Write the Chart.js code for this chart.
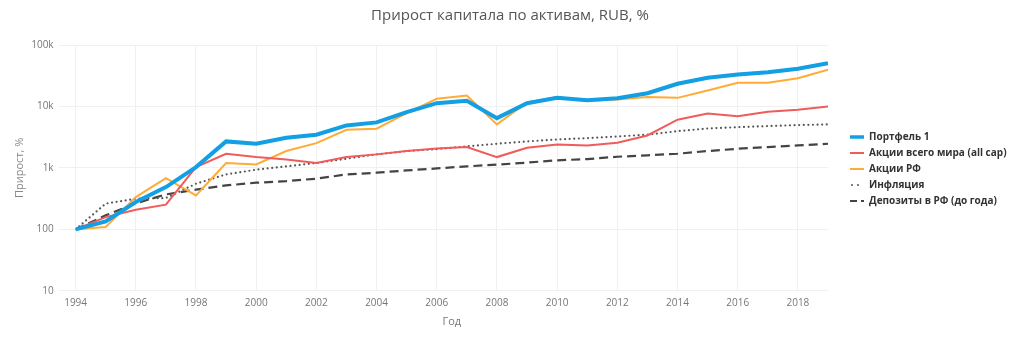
<!DOCTYPE html>
<html>
<head>
<meta charset="utf-8">
<script src="https://cdn.jsdelivr.net/npm/chart.js@4/dist/chart.umd.min.js"></script>
<style>
  html, body { margin: 0; background: #fff; }
  #wrap { width: 1024px; height: 341px; }
</style>
</head>
<body>
<div id="wrap"><canvas id="growthChart"></canvas></div>
<script>
const years = [1994, 1995, 1996, 1997, 1998, 1999, 2000, 2001, 2002, 2003, 2004, 2005, 2006,
  2007, 2008, 2009, 2010, 2011, 2012, 2013, 2014, 2015, 2016, 2017, 2018, 2019];

// cumulative growth, % (start = 100)
const portfolio = [100, 135, 278, 488, 1030, 2700, 2470, 3100, 3470, 4910, 5500, 8070, 11300,
  12400, 6460, 11300, 13800, 12600, 13600, 16400, 23400, 29300, 33200, 36100, 41000, 50600];
const worldStocks = [100, 158, 209, 252, 1030, 1700, 1500, 1370, 1200, 1500, 1660, 1880, 2070,
  2180, 1500, 2130, 2410, 2320, 2570, 3370, 6080, 7700, 6950, 8200, 8840, 10000];
const ruStocks = [100, 109, 335, 682, 357, 1200, 1140, 1880, 2530, 4180, 4340, 7780, 13300,
  15100, 5100, 11600, 14200, 12400, 13000, 14200, 13800, 18200, 24300, 24300, 28800, 39500];
const inflation = [100, 262, 315, 323, 553, 783, 935, 1060, 1200, 1410, 1660, 1880, 2020,
  2240, 2470, 2700, 2900, 3050, 3250, 3470, 3960, 4380, 4600, 4790, 4970, 5100];
const deposits = [100, 169, 265, 370, 442, 519, 574, 610, 667, 783, 835, 910, 980,
  1060, 1130, 1220, 1330, 1390, 1520, 1600, 1700, 1880, 2050, 2180, 2320, 2470];

const yTicks = [10, 100, 1000, 10000, 100000];
const yTickLabels = ['10', '100', '1k', '10k', '100k'];

const toPoints = vals => vals.map((v, i) => ({ x: years[i], y: v }));
const font = 'Open Sans';

// small canvas with a short line sample, used as the legend marker
function lineSample(color, width, dash, cap) {
  const c = document.createElement('canvas');
  c.width = 14;
  c.height = 6;
  const ctx = c.getContext('2d');
  ctx.strokeStyle = color;
  ctx.lineWidth = width;
  ctx.lineCap = cap || 'butt';
  ctx.setLineDash(dash || []);
  ctx.beginPath();
  ctx.moveTo(cap === 'round' ? 2 : 0, 3);
  ctx.lineTo(14, 3);
  ctx.stroke();
  return c;
}

const datasets = [
  { label: 'Портфель 1', data: toPoints(portfolio), borderColor: '#139fe3', borderWidth: 4,
    sample: lineSample('#139fe3', 3.5) },
  { label: 'Акции всего мира (all cap)', data: toPoints(worldStocks), borderColor: '#f05b5b', borderWidth: 2,
    sample: lineSample('#f05b5b', 2) },
  { label: 'Акции РФ', data: toPoints(ruStocks), borderColor: '#ffab36', borderWidth: 2,
    sample: lineSample('#ffab36', 2) },
  { label: 'Инфляция', data: toPoints(inflation), borderColor: '#555', borderWidth: 2.2,
    borderDash: [0, 4.6], borderCapStyle: 'round', sample: lineSample('#555', 2, [0, 6], 'round') },
  { label: 'Депозиты в РФ (до года)', data: toPoints(deposits), borderColor: '#444', borderWidth: 2.2,
    borderDash: [9, 5], sample: lineSample('#444', 2, [7, 4]) }
];

new Chart(document.getElementById('growthChart'), {
  type: 'line',
  data: { datasets },
  options: {
    responsive: true,
    maintainAspectRatio: false,
    animation: false,
    layout: { padding: { left: 9, right: 13, top: 0, bottom: 13 } },
    elements: { point: { radius: 0 }, line: { tension: 0, fill: false } },
    plugins: {
      title: {
        display: true,
        text: 'Прирост капитала по активам, RUB, %',
        color: '#555',
        font: { family: font, size: 15, weight: 'normal' },
        padding: { top: 7, bottom: 20 }
      },
      legend: {
        position: 'right',
        // blank title only pushes the entries a little lower
        title: { display: true, text: '', font: { size: 1 }, padding: 4.4 },
        labels: {
          usePointStyle: true,
          pointStyleWidth: 14,
          padding: 6,
          color: '#333',
          font: { family: font, size: 10, weight: 'bold' },
          generateLabels: chart =>
            Chart.defaults.plugins.legend.labels.generateLabels(chart).map(item => {
              item.pointStyle = chart.data.datasets[item.datasetIndex].sample;
              return item;
            })
        }
      },
      tooltip: { enabled: false }
    },
    scales: {
      x: {
        type: 'linear',
        min: 1994,
        max: 2019,
        border: { display: false },
        grid: { color: '#f0f0f0', drawTicks: false },
        ticks: {
          stepSize: 2,
          includeBounds: false,
          padding: 6,
          color: '#777',
          font: { family: font, size: 10 },
          callback: v => String(v)
        },
        title: {
          display: true,
          text: 'Год',
          color: '#777',
          font: { family: font, size: 11 },
          padding: { top: 0, bottom: 0 }
        }
      },
      y: {
        type: 'logarithmic',
        min: 10,
        max: 100000,
        border: { display: false },
        grid: { color: '#f0f0f0', tickLength: 17 },
        afterBuildTicks: axis => { axis.ticks = yTicks.map(v => ({ value: v })); },
        ticks: {
          padding: 5,
          color: '#777',
          font: { family: font, size: 10 },
          callback: v => yTickLabels[yTicks.indexOf(v)]
        },
        title: {
          display: true,
          text: 'Прирост, %',
          color: '#888',
          font: { family: font, size: 11 },
          padding: { top: 4, bottom: 0 }
        }
      },
      // empty spacer between the plot and the legend
      gap: {
        type: 'linear',
        position: 'right',
        grid: { display: false },
        border: { display: false },
        ticks: { display: false },
        afterFit: s => { s.width = 16; }
      }
    }
  }
});
</script>
</body>
</html>
